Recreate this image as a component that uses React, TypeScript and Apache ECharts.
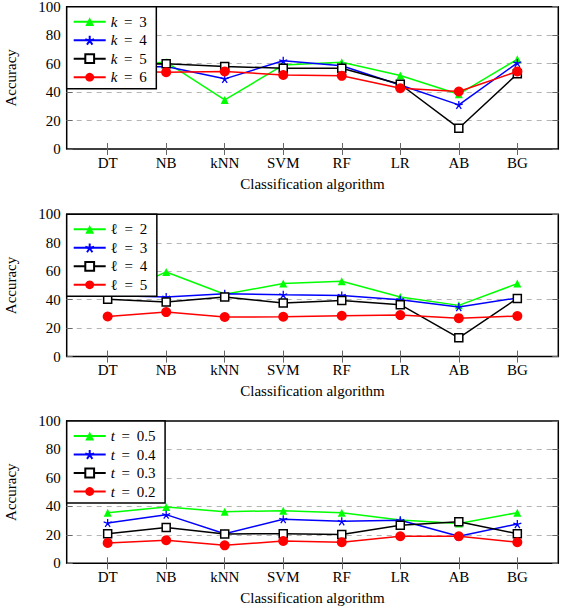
import React, { useEffect, useRef } from "react";
import * as echarts from "echarts";

const categories = ["DT", "NB", "kNN", "SVM", "RF", "LR", "AB", "BG"];
const yTickValues = [0, 20, 40, 60, 80, 100];

const kNames = ["k = 3", "k = 4", "k = 5", "k = 6"];
const k3 = [59, 61, 34.5, 59, 61, 51.6, 38.5, 63];
const k4 = [57, 58, 49.3, 62, 58.5, 45, 31, 60.5];
const k5 = [59.5, 59.9, 58, 56.8, 56.8, 45.5, 14.6, 52.8];
const k6 = [55, 54, 54.5, 52, 51.4, 42.7, 40.4, 54.5];

const lNames = ["ℓ = 2", "ℓ = 3", "ℓ = 4", "ℓ = 5"];
const l2 = [41, 59.5, 43.8, 51.3, 52.9, 41.9, 36, 51.3];
const l3 = [43, 41.9, 44.2, 43.5, 43, 40, 34.8, 41.2];
const l4 = [40.3, 38.4, 41.9, 37.6, 39.5, 36.5, 13.2, 40.9];
const l5 = [28.2, 31.3, 27.8, 28, 28.7, 29.2, 27, 28.5];

const tNames = ["t = 0.5", "t = 0.4", "t = 0.3", "t = 0.2"];
const t5 = [35.6, 39.6, 36.3, 37, 35.5, 30.4, 28, 35.6];
const t4 = [28.4, 34.2, 20.8, 31, 29.5, 30.2, 19, 27.6];
const t3 = [20.8, 25.1, 20.6, 20.8, 20.3, 26.8, 29.2, 20.8];
const t2 = [14.3, 16.2, 12.6, 15.7, 14.8, 19, 19, 14.8];

const xTitle = "Classification algorithm";
const yTitle = "Accuracy";

const FONT = "'Liberation Serif', 'DejaVu Serif', serif";
const STAR =
  "path://M0,0L0,-1M0,0L-0.951,-0.309M0,0L-0.588,0.809M0,0L0.588,0.809M0,0L0.951,-0.309";

const seriesStyles = [
  { color: "#00ff00", symbol: "triangle", symbolSize: 8, itemStyle: { color: "#00ff00" } },
  {
    color: "#0000ff",
    symbol: STAR,
    symbolSize: 8,
    itemStyle: { color: "#0000ff", borderColor: "#0000ff", borderWidth: 1.3 },
  },
  {
    color: "#000000",
    symbol: "rect",
    symbolSize: 8,
    itemStyle: { color: "#ffffff", borderColor: "#000000", borderWidth: 1.5 },
  },
  { color: "#ff0000", symbol: "circle", symbolSize: 10, itemStyle: { color: "#ff0000" } },
];

const panels = [
  { names: kNames, values: [k3, k4, k5, k6] },
  { names: lNames, values: [l2, l3, l4, l5] },
  { names: tNames, values: [t5, t4, t3, t2] },
];

const PANEL_TOPS = [6.7, 214.3, 421];
const PANEL_H = 142.3;
const GRID_LEFT = 66.7;
const GRID_RIGHT = 4.7;
const catPositions = categories.map((_, i) => i + 1);

function buildOption() {
  const grid: any[] = [];
  const xAxis: any[] = [];
  const yAxis: any[] = [];
  const legend: any[] = [];
  const series: any[] = [];
  const tickStyle = { show: true, inside: true, length: 6, lineStyle: { color: "#666", width: 1 } };
  const gridColors = yTickValues.map((v, i) =>
    i === 0 || i === yTickValues.length - 1 ? "rgba(0,0,0,0)" : "#b4b4b4"
  );

  panels.forEach((p, pi) => {
    grid.push({
      left: GRID_LEFT,
      right: GRID_RIGHT,
      top: PANEL_TOPS[pi],
      height: PANEL_H,
      show: true,
      borderColor: "#000",
      borderWidth: 1.5,
      backgroundColor: "transparent",
      containLabel: false,
      outerBoundsMode: "none",
    });
    xAxis.push({
      type: "value",
      gridIndex: pi,
      position: "bottom",
      min: 0.3,
      max: 8.7,
      axisLine: { show: false },
      axisTick: { ...tickStyle, customValues: catPositions },
      axisLabel: {
        customValues: catPositions,
        formatter: (v: number) => categories[Math.round(v) - 1] ?? "",
        color: "#000",
        fontFamily: FONT,
        fontSize: 15,
        margin: 6,
      },
      splitLine: { show: false },
      name: xTitle,
      nameLocation: "middle",
      nameGap: 27,
      nameTextStyle: { color: "#000", fontFamily: FONT, fontSize: 15 },
    });
    xAxis.push({
      type: "value",
      gridIndex: pi,
      position: "top",
      min: 0.3,
      max: 8.7,
      axisLine: { show: false },
      axisTick: { ...tickStyle, customValues: catPositions },
      axisLabel: { show: false },
      splitLine: { show: false },
    });
    yAxis.push({
      type: "value",
      gridIndex: pi,
      position: "left",
      min: 0,
      max: 100,
      interval: 20,
      axisLine: { show: false },
      axisTick: tickStyle,
      axisLabel: {
        color: "#000",
        fontFamily: FONT,
        fontSize: 15,
        margin: 6,
      },
      splitLine: { show: true, lineStyle: { color: gridColors, width: 1, type: [5, 5] } },
      name: yTitle,
      nameLocation: "middle",
      nameGap: 48,
      nameTextStyle: { color: "#000", fontFamily: FONT, fontSize: 15 },
    });
    yAxis.push({
      type: "value",
      gridIndex: pi,
      position: "right",
      min: 0,
      max: 100,
      interval: 20,
      axisLine: { show: false },
      axisTick: tickStyle,
      axisLabel: { show: false },
      splitLine: { show: false },
    });

    legend.push({
      data: p.names,
      orient: "vertical",
      left: GRID_LEFT,
      top: PANEL_TOPS[pi],
      itemWidth: 32,
      itemHeight: 11,
      itemGap: 3.5,
      padding: [7.5, 9.5, 4, 6],
      backgroundColor: "#fff",
      borderColor: "#000",
      borderWidth: 1.5,
      borderRadius: 0,
      selectedMode: false,
      formatter: (name: string) => {
        const parts = name.split(" ");
        const v = parts[0];
        const tag = v === "ℓ" ? "n" : "v";
        return `{${tag}|${v}}{n| \u2009= \u2009${parts[2]}}`;
      },
      textStyle: {
        color: "#000",
        fontFamily: FONT,
        fontSize: 15,
        rich: {
          v: { fontStyle: "italic", fontFamily: FONT, fontSize: 15, color: "#000", lineHeight: 15 },
          n: { fontFamily: FONT, fontSize: 15, color: "#000", lineHeight: 15 },
        },
      },
    });

    p.values.forEach((vals, si) => {
      const st = seriesStyles[si];
      series.push({
        type: "line",
        name: p.names[si],
        xAxisIndex: pi * 2,
        yAxisIndex: pi * 2,
        data: vals.map((v, i) => [catPositions[i], v]),
        color: st.color,
        symbol: st.symbol,
        symbolSize: st.symbolSize,
        showAllSymbol: true,
        itemStyle: st.itemStyle,
        lineStyle: { color: st.color, width: 1.5 },
        emphasis: { disabled: true },
        silent: true,
        clip: false,
        z: 2 + si * 0.01,
      });
    });
  });

  return { animation: false, backgroundColor: "#fff", grid, xAxis, yAxis, legend, series };
}

export default function App() {
  const ref = useRef<HTMLDivElement>(null);
  useEffect(() => {
    document.body.style.margin = "0";
    if (!ref.current) return;
    const chart = echarts.init(ref.current, undefined, { renderer: "svg" });
    chart.setOption(buildOption() as any);
    return () => chart.dispose();
  }, []);
  return (
    <div
      ref={ref}
      style={{ position: "fixed", left: 0, top: 0, width: 563, height: 608, background: "#fff" }}
    />
  );
}
